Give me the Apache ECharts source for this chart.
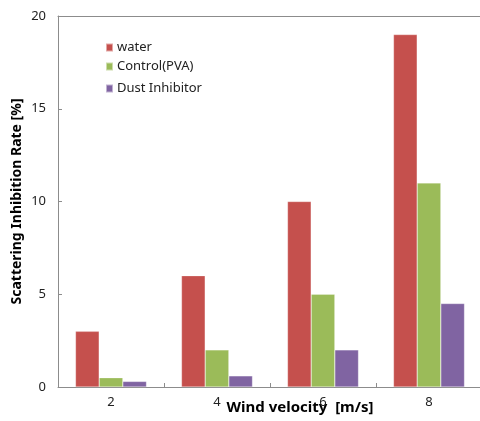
<!DOCTYPE html>
<html><head><meta charset="utf-8">
<script src="https://cdn.jsdelivr.net/npm/echarts@6/dist/echarts.min.js"></script>
<style>html,body{margin:0;padding:0;background:#fff}#c{width:480px;height:421px}</style>
</head><body><div id="c"></div>
<script>
const categories = ['2','4','6','8'];
const water = [3, 6, 10, 19];
const control = [0.5, 2, 5, 11];
const dust = [0.3, 0.6, 2, 4.5];
const seriesNames = ['water','Control(PVA)','Dust Inhibitor'];
const colors = ['#C5504D','#9BBB59','#8064A2'];
const F = "'Noto Sans', sans-serif";
const chart = echarts.init(document.getElementById('c'));
const legendTops = [41, 60, 82];
chart.setOption({
  animation:false,
  color: colors,
  textStyle:{fontFamily:F},
  grid:{left:58, right:-2, top:16, bottom:34, containLabel:false, outerBoundsMode:'none'},
  legend: seriesNames.map((n,i)=>({
    data:[n], left:105, top:legendTops[i], orient:'vertical', padding:0,
    itemWidth:7, itemHeight:8, icon:'rect', itemGap:0,
    textStyle:{fontSize:13, color:'#222', fontFamily:F, padding:[0,0,0,-1]}
  })),
  graphic:[{type:'text', x:300, y:408, style:{text:'Wind velocity  [m/s]', font:"bold 15px 'Noto Sans', sans-serif", fill:'#000', textAlign:'center', textVerticalAlign:'middle'}}],
  xAxis:[{
    type:'category', data:categories,
    axisLine:{lineStyle:{color:'#8c8c8c', width:1}},
    axisTick:{show:true, inside:true, length:4, lineStyle:{color:'#8c8c8c'}},
    axisLabel:{fontSize:13, color:'#222', margin:9, fontFamily:F}
  },{
    type:'category', data:categories, position:'top',
    axisLine:{show:true, lineStyle:{color:'#8c8c8c', width:1}},
    axisTick:{show:false}, axisLabel:{show:false}
  }],
  yAxis:{
    type:'value', min:0, max:20, interval:5,
    name:'Scattering Inhibition Rate [%]', nameLocation:'middle', nameGap:34, nameMoveOverlap:false,
    nameTextStyle:{fontSize:14, fontWeight:'bold', color:'#000', fontFamily:F},
    axisLine:{show:true, lineStyle:{color:'#8c8c8c', width:1}},
    axisTick:{show:true, inside:true, length:4, lineStyle:{color:'#8c8c8c'}},
    splitLine:{show:false},
    axisLabel:{fontSize:13, color:'#222', margin:12, fontFamily:F}
  },
  series:[water, control, dust].map((d,i)=>({
    name:seriesNames[i], type:'bar', data:d,
    barGap:'0%', barCategoryGap:'33%',
    itemStyle:{color:colors[i], borderColor:'rgba(255,255,255,0.5)', borderWidth:0.5}
  }))
});
</script></body></html>
